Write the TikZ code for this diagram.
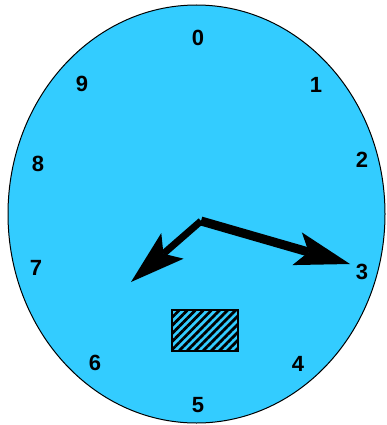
\documentclass[tikz,border=0pt]{standalone}
\usepackage{fontspec}
\setmainfont{Liberation Sans}
\usetikzlibrary{arrows.meta,patterns.meta}
\definecolor{dialblue}{HTML}{33CCFF}

\begin{document}
\begin{tikzpicture}[x=1pt,y=-1pt,
    digit/.style={font=\fontsize{22}{22}\selectfont\bfseries,inner sep=0pt},
    hand/.style={-{Stealth[length=55pt,width=34pt,inset=12pt,line width=0pt]}}]
  \useasboundingbox (0,0) rectangle (387,425);
  \draw[fill=dialblue,line width=1pt] (196.5,214) ellipse [x radius=188.5,y radius=209];
  \foreach \n/\x/\y in {0/198/38,1/316/85,2/362/160,3/362/272,4/298/364,
                        5/198/405,6/95/363,7/36/268,8/38/164,9/82/84}{
    \node[digit] (n\n) at (\x,\y) {\n};
  }
  % hands
  \coordinate (hub) at (201,221);
  \coordinate (hourtip) at (131,282);
  \coordinate (mintip) at (350,264);
  \draw[hand,line width=7pt] (hub) -- (hourtip);
  \draw[hand,line width=9pt] (hub) -- (mintip);
  \draw[line width=2pt,pattern={Lines[angle=45,distance=5.7pt,line width=2.8pt]}]
    (172,309.5) rectangle (238,350.5);
\end{tikzpicture}
\end{document}
